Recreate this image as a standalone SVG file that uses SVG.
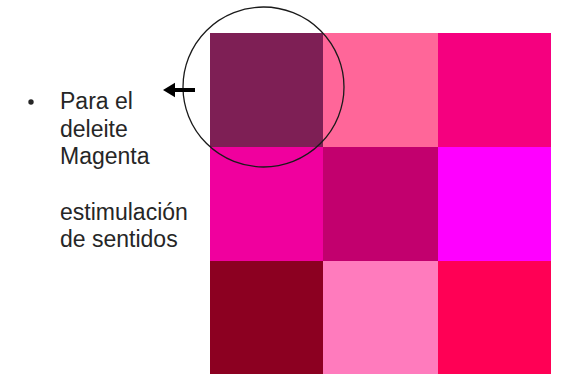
<svg xmlns="http://www.w3.org/2000/svg" width="565" height="376" viewBox="0 0 565 376">
<style>
.t{font-family:"Liberation Sans",Arial,sans-serif;font-size:23px;fill:#262626}
</style>
<defs>
<marker id="ah" markerWidth="4" markerHeight="4" refX="0.5" refY="2" orient="auto" markerUnits="strokeWidth" overflow="visible">
<path d="M0,0.2 L3,2 L0,3.8 Z" fill="#000"/>
</marker>
</defs>
<rect width="565" height="376" fill="#fff"/>
<g id="grid">
<rect x="210" y="33" width="113" height="114" fill="#7e1f55"/>
<rect x="323" y="33" width="115" height="114" fill="#ff6699"/>
<rect x="438" y="33" width="113" height="114" fill="#f5007f"/>
<rect x="210" y="147" width="113" height="114" fill="#f0009e"/>
<rect x="323" y="147" width="115" height="114" fill="#c2006e"/>
<rect x="438" y="147" width="113" height="114" fill="#ff00ff"/>
<rect x="210" y="261" width="113" height="113" fill="#8c0021"/>
<rect x="323" y="261" width="115" height="113" fill="#ff7bbd"/>
<rect x="438" y="261" width="113" height="113" fill="#ff0055"/>
</g>
<g id="circle">
<ellipse cx="263.5" cy="87" rx="80.5" ry="80" fill="none" stroke="#1a1a1a" stroke-width="1.3"/>
</g>
<g id="connectors">
<path d="M195,90 L173,90" stroke="#000" stroke-width="4" fill="none" marker-end="url(#ah)"/>
</g>
<g id="label">
<circle cx="31" cy="102" r="2.7" fill="#262626"/>
<text class="t" x="60" y="109">Para el</text>
<text class="t" x="60" y="137">deleite</text>
<text class="t" x="60" y="164">Magenta</text>
<text class="t" x="60" y="220">estimulación</text>
<text class="t" x="60" y="247">de sentidos</text>
</g>
</svg>
